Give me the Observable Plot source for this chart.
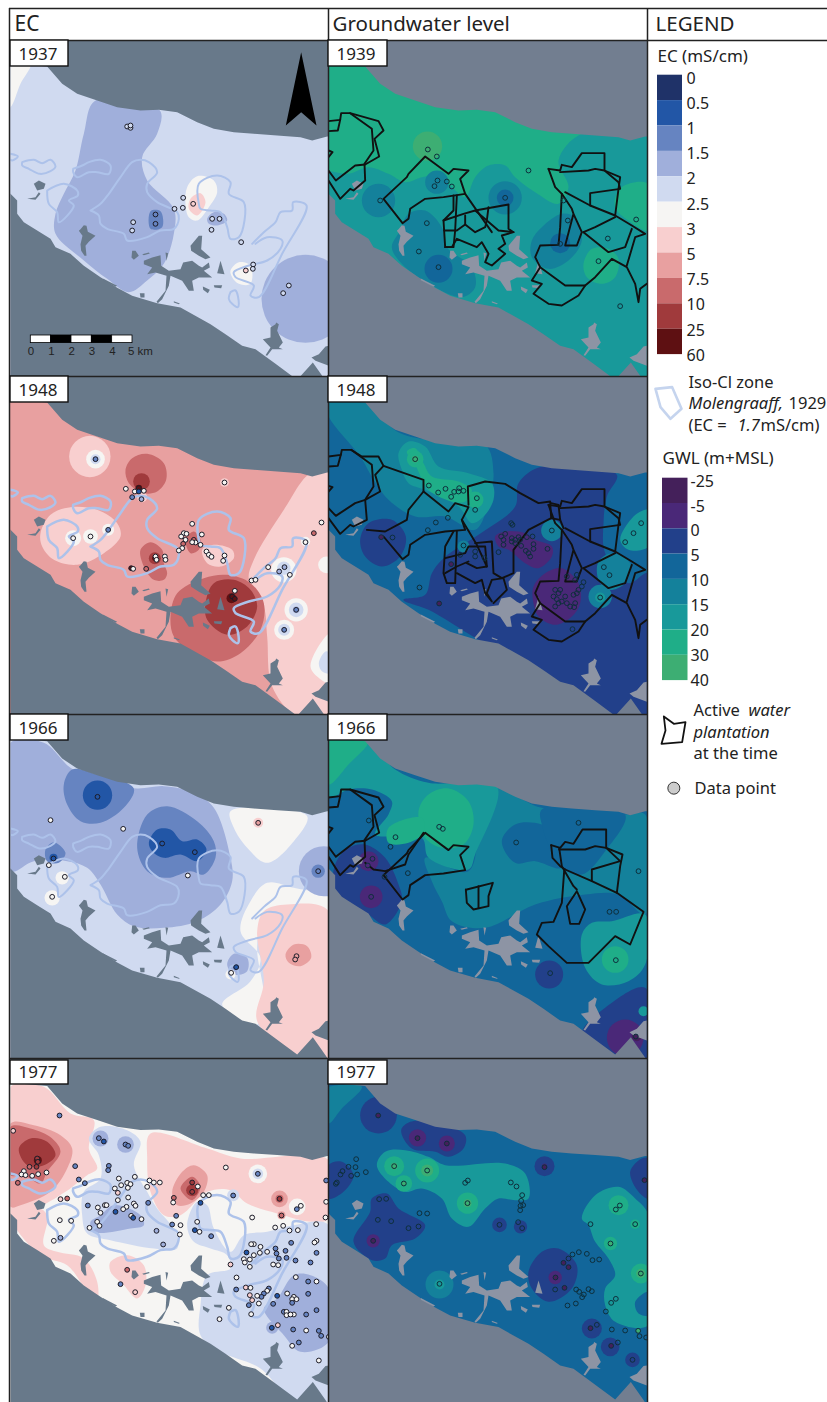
<!DOCTYPE html>
<html><head><meta charset="utf-8">
<script src="https://cdn.jsdelivr.net/npm/d3@7"></script>
<script src="https://cdn.jsdelivr.net/npm/@observablehq/plot@0.6"></script>
<style>html,body{margin:0;padding:0;background:#fff}svg{display:block}</style>
</head><body><div id="chart"></div>
<script>
// Class labels
const ecClasses=["0","0.5","1","1.5","2","2.5","3","5","7.5","10","25","60"];
const gwlClasses=["-25","-5","0","5","10","15","20","30","40"];
const ecColors=["#1f3268","#2256a6","#6684c1","#a0afdb","#d0daf0","#f6f5f3","#f8cfcf","#e8a0a0","#c96a6c","#a03a3c","#5e1012"];
const gwColors=["#44205a","#4a2878","#22408a","#12669a","#14819b","#18999a","#1fae88","#3dae73"];
// Coast, read in the 1937 crop
const northSea=[[-60,-60],[1100,-60],[1100,410],[980,408],[935,420],[900,410],[830,405],[760,400],[700,395],[640,385],[590,365],[530,335],[475,328],[420,330],[350,320],[290,300],[230,280],[185,250],[140,198],[-60,180]];
const southSea=[[-60,575],[30,580],[50,600],[50,640],[70,665],[110,690],[150,715],[165,740],[210,760],[250,796],[300,830],[350,862],[395,886],[470,908],[540,921],[630,971],[675,1001],[725,1036],[765,1046],[825,1090],[890,1138],[937,1086],[975,1140],[985,1155],[1100,1300],[-60,1300]];
// Lakes, west and centre
const lakesWest=[
[[30,40],[40,28],[48,30],[52,48],[75,60],[55,78],[45,90],[48,120],[42,120],[32,105],[30,85],[36,60],[25,45]],
[[185,105],[195,105],[205,120],[190,132],[183,125]],
[[215,115],[235,110],[238,113],[220,118]],
[[220,135],[245,125],[270,118],[272,150],[295,165],[330,160],[338,140],[365,135],[385,150],[395,155],[415,140],[418,155],[400,165],[425,185],[385,185],[365,195],[370,225],[355,225],[335,195],[300,180],[295,210],[275,250],[262,262],[258,258],[285,225],[288,180],[255,170],[230,175],[245,155],[220,145]],
[[360,90],[385,60],[395,60],[392,100],[420,125],[405,130],[385,120],[362,105]],
[[440,172],[450,135],[462,175]],
[[430,208],[455,208],[452,217],[432,215]],
[[397,212],[418,222],[412,232],[398,222]],
[[208,232],[222,232],[222,245],[210,245]],
[[97,188],[140,210],[135,213],[97,193]],
[[310,256],[328,263],[325,265],[310,260]],
[[285,110],[293,112],[288,135]]];
// Lakes, south-east
const lakesEast=[
[[135,65],[150,55],[152,50],[160,55],[155,75],[172,110],[160,125],[172,130],[140,130],[125,150],[120,148],[135,125],[112,100],[135,95]],
[[300,122],[310,120],[310,180],[270,165],[258,155],[280,145]]];
// Lakes near the north-west
const lakesNorth=[
[[100,550],[115,540],[135,550],[130,565],[110,570]],
[[80,595],[105,590],[115,575],[120,580],[105,598]]];
// Iso-Cl zone, read in the 1948 crop
const isoCl=[
[[30,340],[52,348],[35,360],[30,358]],
[[65,365],[100,358],[125,368],[150,358],[165,378],[150,392],[118,400],[85,385],[65,375],[65,365]],
[[218,385],[245,375],[265,365],[300,358],[330,375],[325,400],[290,395],[265,395],[230,410],[218,395],[218,385]],
[[140,450],[190,430],[230,450],[232,465],[205,480],[220,495],[175,545],[170,515],[145,490],[140,450]],
[[270,510],[300,490],[325,460],[360,410],[395,365],[420,358],[445,365],[470,395],[440,430],[440,455],[470,485],[530,515],[535,535],[520,565],[480,570],[440,590],[380,600],[370,580],[320,565],[300,550],[295,525],[270,510]],
[[595,490],[595,430],[650,405],[690,425],[685,460],[730,485],[732,540],[715,590],[690,595],[680,560],[660,515],[630,510],[600,505],[595,490]],
[[755,610],[790,575],[825,545],[840,515],[875,510],[878,485],[918,495],[845,640],[775,770],[750,765],[760,735],[705,710],[700,695],[745,675],[800,660],[840,625],[845,600],[800,590],[765,610]],
[[690,755],[705,750],[715,790],[712,800],[695,790],[685,775],[690,755]]];
// Water plantations
const plantLeft=[
[[0,362],[35,358],[38,338],[65,338],[150,362],[165,390],[138,415],[152,468],[110,492],[80,495],[22,540],[0,510]],
[[35,358],[28,390],[0,392]],
[[65,338],[130,385],[135,450],[108,490],[110,540],[75,570],[65,565],[35,595],[0,540]],
[[0,450],[12,455],[0,470]]];
const plantStrip=[[[165,595],[235,530],[240,520],[290,468],[360,520],[375,505],[420,510],[395,535],[410,580],[345,590],[290,595],[245,625],[240,655],[222,668],[165,595]]];
const plantCentral1939=[
[[410,580],[490,695]],
[[375,585],[375,630],[345,660],[350,740],[375,740],[380,690],[385,585]],
[[345,660],[405,640],[440,630],[540,612],[540,685],[555,695],[520,705],[530,730],[510,745],[530,760],[490,795],[470,785],[480,760],[460,725],[445,740],[385,715],[370,740],[350,740]],
[[347,690],[385,690],[410,672],[410,645]],
[[410,672],[440,695],[470,680],[475,660],[440,630]],
[[480,620],[475,660],[510,690],[555,695]]];
const plantRight=[
[[660,505],[695,510],[700,493],[730,500],[760,458],[828,458],[828,510],[875,530],[870,565],[860,645]],
[[660,505],[680,560],[700,580],[695,680],[690,733],[635,735],[620,770],[635,800],[610,840],[640,850],[615,880],[660,910],[700,915],[750,885],[770,855],[800,830],[850,775],[895,800],[920,850],[930,905],[935,865],[955,850]],
[[635,800],[710,855],[770,855]],
[[700,580],[730,625],[735,640],[710,735],[745,735],[760,695],[735,640]],
[[710,575],[785,615],[860,645],[910,675],[950,700],[920,710],[895,795]],
[[695,515],[780,510],[800,505],[828,510],[870,545],[875,565],[785,578],[785,615]],
[[765,695],[800,680],[860,650]],
[[765,695],[840,755],[890,740],[910,685]]];
const plant1948=[
[[0,240],[37,235],[40,220],[68,220],[100,240],[150,240],[165,268],[140,295],[155,345],[110,370],[80,380],[22,418],[0,395]],
[[37,235],[28,268],[0,270]],
[[68,220],[130,265],[135,330],[110,370],[115,430],[75,450],[65,445],[35,472],[0,425]],
[[0,328],[12,332],[0,345]],
[[165,268],[285,310],[285,345],[360,405],[380,380],[420,392],[400,430],[410,460],[350,465],[290,475],[245,505],[240,535],[222,548],[165,480]],
[[285,345],[240,400],[235,430],[170,465],[115,460]],
[[420,385],[418,330],[470,315],[530,322],[575,350],[630,380],[665,375],[668,425],[600,460],[555,520],[555,590],[520,605],[495,590],[490,495],[440,500]],
[[400,430],[445,505],[475,570]],
[[375,465],[350,510],[345,590],[355,620],[380,620],[385,465]],
[[350,545],[410,530],[420,510],[470,510],[475,570],[445,575],[415,560]],
[[350,590],[385,570],[420,555]],
[[385,590],[440,620],[460,610],[470,650],[490,675],[475,650],[490,610],[525,605],[535,640],[505,670],[495,680]],
[[668,380],[690,385],[695,430],[668,425]],[[695,430],[705,455]]];
const plant1966=[
[[285,355],[240,420],[230,450],[170,470],[135,465],[110,445]],
[[415,525],[493,505],[480,545],[480,575],[435,585],[415,565],[412,525]],
[[450,515],[450,580]],
[[668,392],[695,400],[710,382],[735,388],[762,345],[833,345],[833,400],[882,420],[875,455],[865,535],[945,592],[905,690],[860,665],[825,700],[780,745],[715,745],[660,695],[625,660],[640,625],[675,622],[700,565],[707,470]],
[[692,400],[700,455],[735,515],[745,525]],
[[710,465],[790,500],[865,535]],
[[692,405],[770,405],[800,395],[833,400],[875,440],[790,465],[790,500]],
[[745,530],[715,575],[725,628],[752,628],[770,585],[745,530]],
[[668,392],[672,430],[695,455],[710,465]]];
// Value classes: [class, ring] or [class, x, y, radius]
const ec1937=[
[3,[[285,300],[478,330],[470,400],[425,470],[440,540],[520,625],[520,700],[490,790],[440,840],[385,875],[320,835],[250,780],[165,700],[165,640],[190,580],[225,510],[250,400]]],
[3,915,895,132],
[2,[[450,632],[480,632],[485,680],[450,685]]],
[3,[[620,655],[640,635],[670,640],[680,660],[650,675],[625,670]]],
[5,[[560,560],[590,527],[640,540],[650,575],[625,620],[590,660],[565,650],[555,610]]],
[6,[[570,595],[600,578],[615,605],[590,645],[565,625]]],
[5,[[690,810],[715,785],[750,795],[750,850],[715,850],[695,830]]],
[5,[[20,190],[90,190],[60,250],[30,320],[20,320]]]];
const ec1948=[
[6,[[930,290],[985,290],[990,1020],[890,1020],[815,930],[800,780],[790,690],[745,610],[760,550],[850,400]]],
[5,[[930,870],[960,800],[990,770],[990,920],[950,900]]],
[4,[[955,860],[975,825],[990,830],[990,890],[965,885]]],
[6,[[120,470],[150,415],[210,392],[290,400],[350,440],[360,480],[310,530],[230,565],[160,550],[125,510]]],
[5,218,485,24],[5,270,480,22],[5,323,460,18],
[6,268,240,62],[5,285,248,28],[4,285,248,15],[3,285,248,8],
[8,[[375,280],[395,245],[440,232],[490,260],[497,310],[470,345],[430,350],[385,320]]],
[9,423,315,25],[10,415,335,10],[6,425,362,15],
[8,[[420,520],[450,497],[485,520],[490,560],[500,590],[490,610],[460,610],[430,570]]],
[9,463,545,18],[10,463,545,8],
[8,[[555,490],[580,465],[600,490],[595,520],[570,530]]],
[6,[[605,520],[640,505],[695,520],[700,545],[660,570],[620,560]]],
[8,[[510,720],[530,650],[610,605],[680,595],[750,620],[790,680],[780,760],[720,830],[650,855],[570,825],[520,780]]],
[9,[[615,680],[640,620],[700,610],[750,640],[770,690],[740,750],[680,775],[620,730]]],
[10,693,665,15],
[5,887,700,35],[4,887,700,22],[3,887,700,10],
[5,851,760,30],[4,851,760,18],[3,851,760,8],
[5,850,580,38],[4,850,575,20],[5,915,495,14],[5,978,565,25],[6,672,318,13]];
const ec1966=[
[3,[[30,85],[130,85],[210,160],[300,205],[410,222],[490,215],[580,235],[640,280],[690,430],[695,500],[660,570],[590,620],[490,640],[400,635],[350,600],[300,510],[260,460],[200,440],[100,440],[30,470]]],
[2,[[190,210],[215,165],[290,180],[400,222],[370,280],[300,325],[240,320],[200,270]]],
[1,291,242,44],
[2,[[410,400],[440,300],[500,275],[590,320],[640,380],[645,430],[610,480],[570,470],[500,490],[440,470]]],
[1,[[445,385],[470,345],[510,345],[545,380],[590,375],[618,405],[590,440],[540,420],[490,430],[455,410]]],
[2,[[135,405],[160,383],[195,415],[175,445],[140,440]]],
[1,159,430,12],[5,185,490,20],[5,155,550,23],
[5,[[720,650],[750,560],[800,505],[880,520],[985,550],[985,590],[850,580],[790,610],[770,700],[790,850],[770,930],[665,870],[750,800],[780,730]]],
[6,[[770,920],[790,800],[770,650],[790,590],[860,570],[985,590],[985,1040],[890,1020]]],
[7,[[855,720],[880,690],[920,695],[932,730],[900,755],[865,745]]],
[3,970,470,75],[2,953,470,20],
[5,[[690,290],[920,305],[880,380],[800,445],[740,400],[700,340]]],
[6,773,325,15],
[3,[[680,750],[700,718],[740,730],[740,770],[700,780]]],
[1,707,758,8],[5,690,780,15]];
const ec1977=[
[6,[[30,85],[130,85],[210,165],[280,185],[265,270],[290,330],[260,350],[235,370],[195,400],[100,450],[30,450]]],
[6,[[30,440],[100,440],[140,470],[130,560],[170,580],[250,600],[290,670],[290,720],[255,690],[200,620],[120,590],[30,480]]],
[6,[[450,225],[620,270],[720,300],[985,305],[985,480],[935,490],[830,465],[740,435],[690,395],[620,400],[540,470],[490,470],[450,400],[440,300]]],
[6,[[330,610],[380,590],[430,620],[435,680],[410,720],[370,680],[330,640]]],
[4,[[265,240],[300,205],[380,215],[420,250],[400,320],[440,400],[470,450],[525,520],[530,570],[460,570],[330,545],[260,525],[245,470],[250,400],[300,360],[295,290]]],
[4,[[560,500],[590,430],[620,440],[640,510],[690,580],[730,530],[800,520],[880,500],[985,500],[985,1030],[880,1030],[780,930],[660,880],[600,830],[600,740],[620,650],[690,630],[680,590],[630,570],[580,550]]],
[3,[[880,650],[930,650],[985,690],[985,850],[900,880],[850,830],[790,750],[830,720]]],
[3,[[300,470],[340,440],[420,470],[430,500],[390,510],[280,520],[270,490]]],
[3,300,240,24],[3,375,258,25],[3,815,808,18],
[7,[[30,195],[100,200],[180,230],[215,270],[200,330],[150,400],[60,440],[30,445]]],
[8,[[30,205],[90,210],[155,240],[180,280],[140,340],[120,375],[70,350],[30,350]]],
[9,[[55,270],[90,240],[140,250],[165,290],[130,320],[80,320]]],
[10,112,305,12],
[7,[[515,400],[545,340],[580,320],[620,350],[610,400],[570,435],[530,440]]],
[8,[[540,390],[575,355],[600,385],[575,425]]],[9,575,395,18],
[7,837,421,25],[7,843,470,12],[8,837,421,12],
[5,772,346,28],[4,772,346,16],[4,698,410,18],[5,890,445,25]];
const gw1939=[
[5,[[-20,520],[60,520],[120,500],[180,520],[230,545],[280,530],[320,525],[370,560],[410,590],[440,530],[480,495],[530,495],[560,530],[620,575],[690,610],[720,560],[690,480],[760,400],[980,410],[980,560],[880,560],[860,620],[980,700],[1000,1250],[-20,1150]]],
[7,297,437,44],
[4,150,600,50],
[4,[[240,640],[290,630],[340,680],[355,740],[430,800],[440,860],[400,890],[300,850],[220,790],[190,740],[215,690]]],
[3,330,805,42],[4,325,545,35],[4,530,592,50],[3,530,592,25],
[4,[[610,720],[640,680],[700,640],[740,650],[760,720],[720,780],[660,805],[610,770]]],
[3,695,728,30],
[6,[[765,790],[790,745],[840,745],[870,775],[860,830],[820,850],[775,830]]],
[6,[[860,620],[880,560],[960,550],[960,690],[900,660]]]];
const gw1948=[
[4,[[-20,50],[60,60],[125,85],[205,165],[300,190],[470,205],[495,290],[480,380],[440,460],[350,420],[260,420],[180,370],[130,300],[95,240],[0,120]]],
[5,[[210,230],[240,195],[290,210],[330,270],[420,290],[490,320],[495,370],[465,420],[430,440],[390,390],[290,340],[240,320],[220,280]]],
[6,[[235,225],[260,215],[285,260],[310,300],[390,315],[430,340],[410,375],[370,375],[300,340],[260,265]]],
[6,440,370,25],[6,260,248,25],[7,260,248,10],
[2,[[570,320],[640,270],[865,295],[835,360],[825,440],[830,530],[900,620],[960,590],[960,1020],[870,1020],[640,900],[450,790],[300,700],[225,670],[290,655],[310,590],[345,545],[450,475],[560,390]]],
[5,[[875,490],[915,420],[950,400],[960,400],[960,510],[900,520]]],
[4,[[810,555],[850,530],[905,560],[890,620],[840,640],[810,610]]],
[4,815,660,35],[5,815,663,15],[4,670,462,32],
[2,[[95,490],[120,440],[190,430],[232,480],[215,540],[160,570],[110,540]]],
[1,[[500,480],[530,465],[590,470],[620,490],[670,510],[670,540],[630,575],[590,560],[540,520],[510,510]]],
[1,[[615,630],[650,590],[700,575],[750,620],[755,680],[730,720],[680,745],[630,720],[615,680]]],
[4,405,510,18]];
const gw1966=[
[4,[[310,500],[290,430],[420,470],[480,215],[640,280],[890,300],[950,300],[950,600],[870,540],[770,540],[620,570],[470,640],[370,620],[340,560]]],
[5,[[0,80],[120,85],[200,165],[300,205],[505,215],[440,420],[420,465],[300,430],[280,370],[140,360],[180,300],[190,260],[130,225],[60,225],[0,250]]],
[6,[[-10,60],[118,80],[60,150],[0,210]]],
[6,[[270,290],[300,240],[360,222],[420,260],[435,330],[405,390],[340,400],[290,370]]],
[6,[[180,340],[280,310],[285,355],[240,385],[180,385]]],
[2,[[20,450],[60,400],[110,390],[170,430],[210,510],[220,560],[170,630],[120,600],[20,530]]],
[1,128,547,34],[1,120,440,30],
[3,[[520,380],[560,330],[640,330],[700,370],[700,460],[620,440],[560,445]]],
[3,[[640,285],[890,300],[830,410],[760,480],[700,460],[640,330]]],
[5,[[760,660],[790,625],[850,620],[950,600],[950,750],[900,800],[820,810],[770,760]]],
[6,860,735,40],[2,662,780,42],
[2,[[760,960],[830,880],[950,820],[960,1040],[860,1020]]],
[1,890,970,55],[0,925,965,15],[5,945,890,15]];
const gw1977=[
[4,[[-10,90],[100,85],[40,150],[0,195],[-10,120]]],
[2,150,170,55],
[2,[[218,215],[245,190],[300,190],[410,230],[405,270],[360,295],[320,280],[250,270]]],
[1,267,238,26],[1,355,255,24],
[2,[[0,320],[40,310],[75,350],[45,400],[0,420]]],
[5,[[145,320],[170,280],[230,275],[300,295],[350,320],[530,315],[590,345],[600,420],[560,425],[510,420],[470,450],[420,505],[370,480],[340,420],[280,390],[230,400],[180,370]]],
[6,197,323,30],[6,296,336,36],[6,226,375,25],[6,417,434,32],[7,296,336,18],[7,197,323,10],[7,417,434,12],
[2,[[75,550],[125,460],[130,420],[175,405],[210,450],[290,500],[260,540],[190,560],[170,600],[130,605]]],
[1,134,547,20],[4,333,678,42],[5,333,678,15],
[2,513,499,22],[2,576,505,20],[2,648,323,30],[1,648,323,8],
[2,[[600,640],[640,580],[690,570],[745,620],[730,690],[660,730],[610,690]]],
[1,680,657,20],[2,790,810,30],[2,845,865,28],[2,912,904,22],
[2,[[905,340],[940,300],[960,300],[960,420],[930,400]]],
[5,[[760,480],[800,410],[870,385],[920,420],[960,470],[960,800],[860,790],[830,740],[830,690],[860,650],[840,600],[800,550],[780,500]]],
[6,937,645,30],[7,937,645,14],[6,870,440,30],[6,846,555,20],[6,920,497,14],
[3,[[920,730],[960,700],[970,770],[930,765]]]];
// Data points: x, y, optional class
const ec1937Dots=[[380,378],[390,382],[390,375],[548,592],[522,625],[547,622],[578,610,6],[635,655],[657,655],[633,688],[465,642,2],[465,670,2],[398,665],[395,690],[722,725],[758,792],[757,805],[736,810,6],[865,855],[848,878]];
const gw1939Dots=[[298,447],[325,468],[327,540],[355,543],[318,557],[370,558],[155,600],[295,668],[271,753],[330,800],[530,592],[600,510],[705,600],[718,660],[695,730],[838,714],[810,782],[923,657],[875,917]];
const ec1948Dots=[[285,248,2],[376,337],[415,335,10],[403,345],[430,343],[415,345,1],[395,362,2],[423,368,3],[672,318],[575,442],[550,470],[558,472],[542,480],[604,474],[555,490],[548,502,8],[545,515],[535,522],[580,490,8],[585,498],[575,497],[600,505],[618,525],[625,535],[633,541],[672,537],[668,553],[465,540],[468,550],[493,540],[495,550],[392,575,10],[398,577],[437,577,8],[323,460,2],[270,480],[218,485],[703,643],[695,660,10],[703,667,10],[887,700,2],[851,760,2],[963,438],[940,470,8],[915,497],[803,572],[852,572,3],[836,585,3],[868,595],[753,612],[765,610]];
const gw1948Dots=[[260,248],[301,327],[329,348],[351,337],[368,361],[377,346],[390,345],[392,335],[405,343],[445,365],[440,400],[322,438],[358,424],[298,461],[158,482,0],[192,483],[405,507],[395,535],[440,525],[440,540],[368,563,0],[468,545],[273,633],[332,681,0],[548,440],[552,445],[518,480],[530,472],[525,490],[525,505],[510,527],[550,485],[550,495],[560,490],[560,500],[570,482],[575,490],[578,508],[595,482],[612,480],[615,503],[615,517],[592,523],[600,530],[605,540],[657,517],[670,462],[715,600],[745,595],[740,610],[765,617],[760,630],[750,640],[745,650],[735,655],[680,640],[695,640],[675,660],[690,650],[685,668],[690,680],[710,660],[700,675],[715,680],[725,690],[740,680],[737,692],[680,690],[732,758],[815,663],[826,572],[843,596],[890,497],[915,470],[938,440]];
const ec1966Dots=[[291,247,1],[150,317],[368,343],[485,387,1],[583,413,1],[562,483],[773,325,7],[159,432,1],[145,452],[193,487],[155,547],[953,470,2],[888,725,7],[884,735,7],[707,758,1],[692,775]];
const gw1966Dots=[[121,318],[201,368],[186,397],[132,433,1],[118,453,1],[238,476],[168,487],[128,547,1],[332,337],[343,343],[563,384],[750,325],[930,470],[843,592],[863,592],[862,737],[665,776],[922,966,0]];
const ec1977Dots=[[177,171,2],[38,217,6],[295,239,2],[310,249,1],[375,258,2],[383,262,2],[325,322,2],[323,335,2],[224,323,2],[110,300,9],[112,310,9],[108,325,9],[87,325,8],[70,338],[63,348],[75,350],[95,352],[113,347],[138,342],[52,373,8],[235,363,2],[253,374,2],[180,422,6],[200,420,8],[262,441,2],[292,447],[313,440],[318,440],[300,463],[290,490],[267,508],[297,502],[355,360],[362,380],[380,373],[390,377],[382,388],[403,355],[352,403,6],[343,390],[447,366],[460,372],[478,372],[440,385],[443,433,2],[345,460,1],[352,425],[383,417],[378,445],[368,452],[400,435],[405,442],[392,472],[398,478,1],[423,482],[468,517,3],[488,558,3],[178,485],[212,487],[180,538,3],[160,547],[380,634,8],[360,677,2],[404,701,6],[520,418,8],[518,432],[575,372,9],[592,384],[575,400,9],[608,410],[625,410],[600,433,1],[527,472,2],[515,498,2],[540,500],[538,528],[583,515,1],[597,520],[590,490],[632,533,2],[676,327],[698,411,2],[772,346,2],[837,421,9],[843,471,8],[901,442],[889,452,2],[755,477],[824,507],[848,502],[867,516],[892,515],[947,497],[975,477],[977,430],[977,366,2],[872,553,2],[948,547],[942,552],[948,583,2],[760,557],[752,557],[738,582,1],[780,565],[778,583],[730,602],[733,612],[748,603],[748,625],[690,618,6],[760,590],[800,580],[825,570,2],[828,585,2],[855,577,2],[835,600,2],[858,598,2],[818,618],[833,620],[885,606,2],[930,612,2],[886,656],[923,669,2],[948,669],[708,657],[707,693,2],[736,687,6],[750,688],[805,690,2],[800,697],[790,705,2],[783,715,2],[748,710,6],[755,725,6],[775,735],[770,712],[830,712,1],[860,705],[880,715],[875,722],[888,722],[875,733,2],[923,706,2],[818,736,2],[685,748],[745,740,2],[752,767],[657,782],[850,760,2],[858,760],[858,770],[880,768],[870,768],[917,768,2],[948,755,2],[814,808,1],[832,800,6],[878,813,2],[917,816],[955,817,2],[962,832,2],[895,852,2],[875,862],[955,906],[985,835]];
const gw1977Dots=[[149,171,0],[267,239,0],[355,255,0],[83,302],[81,326],[60,325],[42,338],[36,348],[68,352],[86,348],[112,341],[25,372],[22,376],[197,323,7],[296,336,7],[226,375,7],[418,366],[410,373],[547,372],[564,384],[581,410],[578,427],[584,440],[576,442],[575,455],[417,434,7],[152,422],[173,421],[273,464],[296,465],[148,484],[188,488],[240,509],[270,504],[134,547,0],[513,499],[569,491],[581,509],[333,676],[648,326,0],[948,365,0],[874,441],[862,453],[786,497],[920,497],[846,555,7],[937,645,7],[751,581],[775,586],[732,588],[720,600],[705,613,0],[720,626,0],[792,605],[812,603],[681,657,0],[680,693],[708,688,0],[743,693],[752,700],[766,708],[761,716],[780,692],[790,698],[862,721],[848,733],[717,741],[742,735],[832,759],[786,809,0],[805,799],[850,813],[890,816],[929,817,7],[933,833],[953,837],[848,862,0],[868,852],[912,904]];

const ink="#111";
const seaEC="#68798a", seaGW="#727e90", lakeGW="#8d94a4", isoColor="#adc2ea";
const toPage=(pts,ox,oy)=>pts.map(([x,y,c])=>({x:ox+x/3,y:oy+y/3,c}));
const xy={x:"x",y:"y"};
const font="Noto Sans";
const pathShape=(pts,o)=>Plot.line(pts,{...xy,curve:"linear",...o});

const clips=new Set();
function clipTo(id,x0,y0,x1,y1){
  return (I,s,v,d,c,next)=>{
    const g=next(I,s,v,d,c);
    if(!g) return g;
    g.setAttribute("clip-path",`url(#${id})`);
    if(!clips.has(id)){
      clips.add(id);
      const cp=document.createElementNS("http://www.w3.org/2000/svg","clipPath");
      cp.setAttribute("id",id);
      const r=document.createElementNS("http://www.w3.org/2000/svg","rect");
      r.setAttribute("x",x0);r.setAttribute("y",y0);r.setAttribute("width",x1-x0);r.setAttribute("height",y1-y0);
      cp.appendChild(r);g.prepend(cp);
    }
    return g;
  };
}
const panels=[
 {id:"a",kind:"EC",label:"1937",x0:10,x1:328,y0:40,y1:376,cy:0,my:0,base:4,blobs:ec1937,dots:ec1937Dots,dflt:4},
 {id:"b",kind:"GW",label:"1939",x0:328,x1:647,y0:40,y1:376,cy:0,my:0,base:6,blobs:gw1939,dots:gw1939Dots},
 {id:"c",kind:"EC",label:"1948",x0:10,x1:328,y0:376,y1:714,cy:376,my:336,base:7,blobs:ec1948,dots:ec1948Dots,dflt:5},
 {id:"d",kind:"GW",label:"1948",x0:328,x1:647,y0:376,y1:714,cy:376,my:336,base:3,blobs:gw1948,dots:gw1948Dots},
 {id:"e",kind:"EC",label:"1966",x0:10,x1:328,y0:714,y1:1058,cy:714,my:674.7,base:4,blobs:ec1966,dots:ec1966Dots,dflt:5},
 {id:"f",kind:"GW",label:"1966",x0:328,x1:647,y0:714,y1:1058,cy:714,my:674.7,base:3,blobs:gw1966,dots:gw1966Dots},
 {id:"g",kind:"EC",label:"1977",x0:10,x1:328,y0:1058,y1:1402,cy:1058,my:1019.6,base:5,blobs:ec1977,dots:ec1977Dots,dflt:5},
 {id:"h",kind:"GW",label:"1977",x0:328,x1:647,y0:1058,y1:1402,cy:1058,my:1019.6,base:3,blobs:gw1977,dots:gw1977Dots}
];
const marks=[];
for(const p of panels){
  const isEC=p.kind==="EC";
  const pal=isEC?ecColors:gwColors;
  const cx=isEC?0:328, mx=isEC?0:318;
  const render=clipTo("clip-"+p.id,p.x0,p.y0,p.x1,p.y1);
  marks.push(Plot.rect([p],{x1:"x0",x2:"x1",y1:"y0",y2:"y1",fill:pal[p.base],render}));
  for(const b of p.blobs){
    if(Array.isArray(b[1])) marks.push(Plot.line(toPage(b[1],cx,p.cy),{...xy,curve:"catmull-rom-closed",fill:pal[b[0]],stroke:"none",render}));
    else marks.push(Plot.dot(toPage([[b[1],b[2]]],cx,p.cy),{...xy,r:b[3]/3,fill:pal[b[0]],stroke:"none",render}));
  }
  const sea=isEC?seaEC:seaGW, lake=isEC?seaEC:lakeGW;
  for(const s of [northSea,southSea]) marks.push(Plot.line(toPage(s,mx,p.my),{...xy,curve:"linear-closed",fill:sea,stroke:"none",render}));
  const lakeMark=(l,ox,oy)=>marks.push(Plot.line(toPage(l,ox,oy),{...xy,curve:"linear-closed",fill:lake,stroke:"none",render}));
  for(const l of lakesNorth) lakeMark(l,mx,p.my);
  for(const l of lakesWest) lakeMark(l,mx+70,p.my+215.3);
  for(const l of lakesEast) lakeMark(l,mx+225,p.my+305.3);
  if(isEC){
    const w=p.id==="c"||p.id==="g"?2.5:2;
    for(const l of isoCl) marks.push(Plot.line(toPage(l,0,p.my+40),{...xy,curve:"catmull-rom",alpha:0.5,stroke:isoColor,strokeWidth:w,render,strokeLinejoin:"round"}));
  }
  const black=(list,oy)=>{for(const l of list) marks.push(pathShape(toPage(l,328,oy),{stroke:ink,strokeWidth:1.9,render,strokeLinejoin:"round"}));};
  if(p.id==="b"){black(plantLeft,0);black(plantStrip,0);black(plantCentral1939,0);black(plantRight,0);}
  if(p.id==="d"){black(plant1948,376);black(plantRight,336);}
  if(p.id==="f"){black(plantLeft,676.3);black(plantStrip,676.3);black(plant1966,714);}
  const pts=toPage(p.dots,cx,p.cy);
  marks.push(Plot.dot(pts,{...xy,r:2.4,
    fill:d=>d.c!==undefined?pal[d.c]:(isEC?pal[p.dflt]:"none"),
    stroke:isEC?"#1c1c28":"#0e2f3c",strokeWidth:1,render}));
}
// scale bar and north arrow on the first panel
const scaleKm=[0,1,2,3,4,5];
const kmX=d3.scaleLinear([0,5],[30.3,132]);
marks.push(Plot.rect(d3.range(5),{x1:d=>kmX(d),x2:d=>kmX(d+1),y1:()=>335,y2:()=>342.6,fill:d=>d%2?"#000":"#fff",stroke:"#000",strokeWidth:.8}));
marks.push(Plot.text(scaleKm,{x:d=>kmX(d)+(d===5?-1.5:0),y:()=>351,text:d=>d===5?"5 km":String(d),textAnchor:"start",dx:-3,fontFamily:"Liberation Sans",fontSize:11.5,fill:"#222"}));
marks.push(Plot.line(toPage([[902,155],[948,375],[902,335],[856,375]],0,0),{...xy,curve:"linear-closed",fill:"#000",stroke:"none"}));
// frames
const hLines=[[9,827,8],[9,827,40],[9,647,376],[9,647,714],[9,647,1058]];
const vLines=[[9,8,1402],[328,8,1402],[647,8,1402]];
marks.push(Plot.ruleY(hLines,{x1:d=>d[0],x2:d=>d[1],y:d=>d[2],stroke:"#222",strokeWidth:1.5}));
marks.push(Plot.ruleX(vLines,{x:d=>d[0],y1:d=>d[1],y2:d=>d[2],stroke:"#222",strokeWidth:1.5}));
// panel labels
for(const p of panels){
  const w=p.x0===10?58:59;
  marks.push(Plot.rect([p],{x1:d=>d.x0,x2:d=>d.x0+w,y1:d=>d.y0+(d.id==="g"||d.id==="h"?2:0),y2:d=>d.y0+26,fill:"#fff",stroke:"#111",strokeWidth:1.4}));
  marks.push(Plot.text([p],{x:d=>d.x0+8,y:d=>d.y0+14,text:"label",textAnchor:"start",fontFamily:font,fontSize:17,fill:"#222"}));
}
const txt=(s,x,y,size,extra={})=>Plot.text([s],{x:()=>x,y:()=>y,text:d=>d,textAnchor:"start",fontFamily:font,fontSize:size,fill:"#222",...extra});
const it={fontStyle:"italic"};
marks.push(txt("EC",14,24,21),txt("Groundwater level",332,24,20.5),txt("LEGEND",655,24,20.5));
marks.push(txt("EC (mS/cm)",657,56,17));
const ecStep=25.4;
marks.push(Plot.rect(ecColors,{x1:()=>657,x2:()=>682,y1:(d,i)=>74.7+i*ecStep,y2:(d,i)=>74.7+(i+1)*ecStep,fill:d=>d}));
marks.push(Plot.text(ecClasses,{x:()=>686,y:(d,i)=>78+i*25.2,text:d=>d,textAnchor:"start",fontFamily:font,fontSize:16,fill:"#222"}));
marks.push(pathShape(toPage([[30,1165],[80,1160],[108,1225],[75,1255],[45,1220],[30,1165]],645,0),{stroke:"#c5d4ee",strokeWidth:2.6}));
marks.push(txt("Iso-Cl zone",688,382,16.5),txt("Molengraaff,",688,403.5,16.5,it),txt("1929",788,403.5,16.5),txt("(EC =",688,425,16.5),txt("1.7",737,425,16.5,it),txt("mS/cm)",760,425,16.5));
marks.push(txt("GWL (m+MSL)",662,458,17));
const gwStep=25.3;
marks.push(Plot.rect(gwColors,{x1:()=>662,x2:()=>687.5,y1:(d,i)=>477.7+i*gwStep,y2:(d,i)=>477.7+(i+1)*gwStep,fill:d=>d}));
marks.push(Plot.text(gwlClasses,{x:()=>690,y:(d,i)=>481+i*24.9,text:d=>d,textAnchor:"start",fontFamily:font,fontSize:16,fill:"#222"}));
marks.push(pathShape(toPage([[55,858],[85,880],[120,875],[110,935],[48,940],[60,900],[55,858]],645,430),{stroke:"#111",strokeWidth:1.8}));
marks.push(txt("Active",693,710,16.5),txt("water",748,710,16.5,it),txt("plantation",693,732,16.5,it),txt("at the time",693,753.5,16.5));
marks.push(Plot.dot(toPage([[85,1073]],645,430),{...xy,r:6,fill:"#ccc",stroke:"#333",strokeWidth:1}));
marks.push(txt("Data point",694,788,16.5));

const chart=Plot.plot({width:827,height:1402,margin:0,
  x:{domain:[0,827],axis:null},y:{domain:[1402,0],axis:null},
  color:{type:"identity"},marks});
document.getElementById("chart").append(chart);
</script></body></html>
